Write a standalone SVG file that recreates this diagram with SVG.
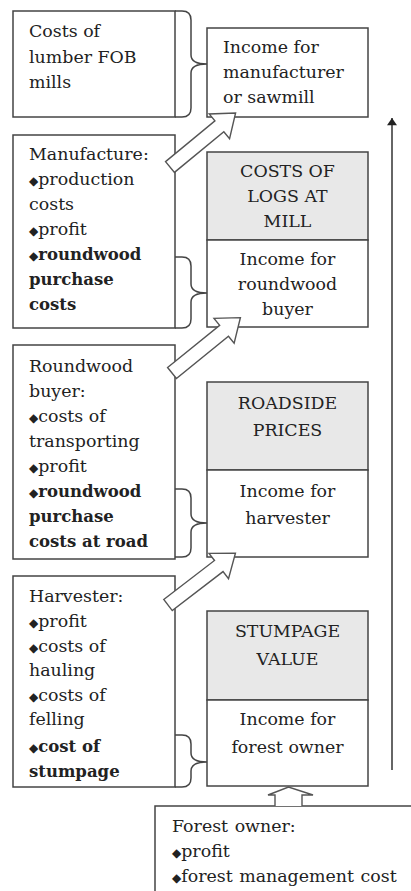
<svg xmlns="http://www.w3.org/2000/svg" width="411" height="891" viewBox="0 0 411 891">
<defs>
<style>
.box{fill:#fff;stroke:#444;stroke-width:1.5}
.hdr{fill:#e8e8e8;stroke:#444;stroke-width:1.5}
.brace{fill:none;stroke:#444;stroke-width:1.5}
.harrow{fill:#fff;stroke:#555;stroke-width:1.4;stroke-linejoin:miter}
text{font-family:"DejaVu Serif","Liberation Serif",serif;font-size:17.4px;fill:#222}
.c{text-anchor:middle}
.b{font-weight:bold;font-size:16.5px}
.bl{font-family:"DejaVu Sans",sans-serif;font-size:12px;font-weight:normal}
.ws{word-spacing:1px}
</style>
<marker id="ah" viewBox="0 0 10 14" refX="10" refY="7" markerWidth="14" markerHeight="10" orient="auto" markerUnits="userSpaceOnUse">
<path d="M0,0 L10,7 L0,14 Z" fill="#222"/>
</marker>
</defs>

<g id="lumber-costs">
<rect class="box" x="13" y="11" width="162" height="106"/>
<text x="29" y="37">Costs of</text>
<text x="29" y="63">lumber FOB</text>
<text x="29" y="88">mills</text>
</g>

<g id="income-manufacturer">
<rect class="box" x="207" y="28" width="161" height="89"/>
<text x="223" y="53">Income for</text>
<text x="223" y="78">manufacturer</text>
<text x="223" y="103">or sawmill</text>
</g>

<g id="manufacture">
<rect class="box" x="13" y="135" width="162" height="193"/>
<text x="29" y="160">Manufacture:</text>
<text x="29" y="185"><tspan class="bl">◆</tspan>production</text>
<text x="29" y="210">costs</text>
<text x="29" y="235"><tspan class="bl">◆</tspan>profit</text>
<text x="29" y="260" class="b"><tspan class="bl">◆</tspan>roundwood</text>
<text x="29" y="285" class="b">purchase</text>
<text x="29" y="310" class="b">costs</text>
</g>

<g id="logs-at-mill">
<rect class="hdr" x="207" y="152" width="161" height="88"/>
<rect class="box" x="207" y="240" width="161" height="87"/>
<text class="c" x="287.5" y="177">COSTS OF</text>
<text class="c" x="287.5" y="202">LOGS AT</text>
<text class="c" x="287.5" y="227">MILL</text>
<text class="c" x="287.5" y="265">Income for</text>
<text class="c" x="287.5" y="290">roundwood</text>
<text class="c" x="287.5" y="315">buyer</text>
</g>

<g id="roundwood-buyer">
<rect class="box" x="13" y="345" width="162" height="214"/>
<text x="29" y="372">Roundwood</text>
<text x="29" y="397">buyer:</text>
<text x="29" y="422"><tspan class="bl">◆</tspan>costs of</text>
<text x="29" y="447">transporting</text>
<text x="29" y="472"><tspan class="bl">◆</tspan>profit</text>
<text x="29" y="497" class="b"><tspan class="bl">◆</tspan>roundwood</text>
<text x="29" y="522" class="b">purchase</text>
<text x="29" y="547" class="b">costs at road</text>
</g>

<g id="roadside-prices">
<rect class="hdr" x="207" y="382" width="161" height="88"/>
<rect class="box" x="207" y="470" width="161" height="87"/>
<text class="c" x="287.5" y="409">ROADSIDE</text>
<text class="c" x="287.5" y="436">PRICES</text>
<text class="c" x="287.5" y="497">Income for</text>
<text class="c" x="287.5" y="524">harvester</text>
</g>

<g id="harvester">
<rect class="box" x="13" y="576" width="162" height="211"/>
<text x="29" y="602">Harvester:</text>
<text x="29" y="627"><tspan class="bl">◆</tspan>profit</text>
<text x="29" y="652"><tspan class="bl">◆</tspan>costs of</text>
<text x="29" y="676">hauling</text>
<text x="29" y="701"><tspan class="bl">◆</tspan>costs of</text>
<text x="29" y="725">felling</text>
<text x="29" y="752" class="b"><tspan class="bl">◆</tspan>cost of</text>
<text x="29" y="777" class="b">stumpage</text>
</g>

<g id="stumpage-value">
<rect class="hdr" x="207" y="611" width="161" height="89"/>
<rect class="box" x="207" y="700" width="161" height="86"/>
<text class="c" x="287.5" y="637">STUMPAGE</text>
<text class="c" x="287.5" y="665">VALUE</text>
<text class="c" x="287.5" y="725">Income for</text>
<text class="c" x="287.5" y="753">forest owner</text>
</g>

<g id="forest-owner">
<rect class="box" x="155" y="806" width="270" height="100"/>
<text x="172" y="832" class="ws">Forest owner:</text>
<text x="172" y="857"><tspan class="bl">◆</tspan>profit</text>
<text x="172" y="882" class="ws"><tspan class="bl">◆</tspan>forest management cost</text>
</g>

<g id="connectors">
<path class="brace" d="M175,11 H182 Q191,11 191,20 V55 Q191,64 207,64 Q191,64 191,73 V108 Q191,117 182,117 H175"/>
<path class="brace" d="M175,257 H182 Q191,257 191,266 V284 Q191,293 207,293 Q191,293 191,302 V319 Q191,328 182,328 H175"/>
<path class="brace" d="M175,489 H182 Q191,489 191,498 V514 Q191,523 207,523 Q191,523 191,532 V548 Q191,557 182,557 H175"/>
<path class="brace" d="M175,735 H182 Q191,735 191,744 V753 Q191,762 207,762 Q191,762 191,771 V778 Q191,787 182,787 H175"/>
<path class="harrow" transform="translate(170,167) rotate(-39.5)" d="M0,-7 H64 V-16 L85,0 L64,16 V7 H0 Z"/>
<path class="harrow" transform="translate(172,373) rotate(-39)" d="M0,-7 H67 V-16 L88,0 L67,16 V7 H0 Z"/>
<path class="harrow" transform="translate(168,605) rotate(-37.5)" d="M0,-7 H64 V-16 L85,0 L64,16 V7 H0 Z"/>
<path class="harrow" d="M275,806 V795 H268 L288.5,787 L313,795 H302 V806"/>
<line x1="392" y1="770" x2="392" y2="118" stroke="#333" stroke-width="1.5" marker-end="url(#ah)"/>
</g>
</svg>
